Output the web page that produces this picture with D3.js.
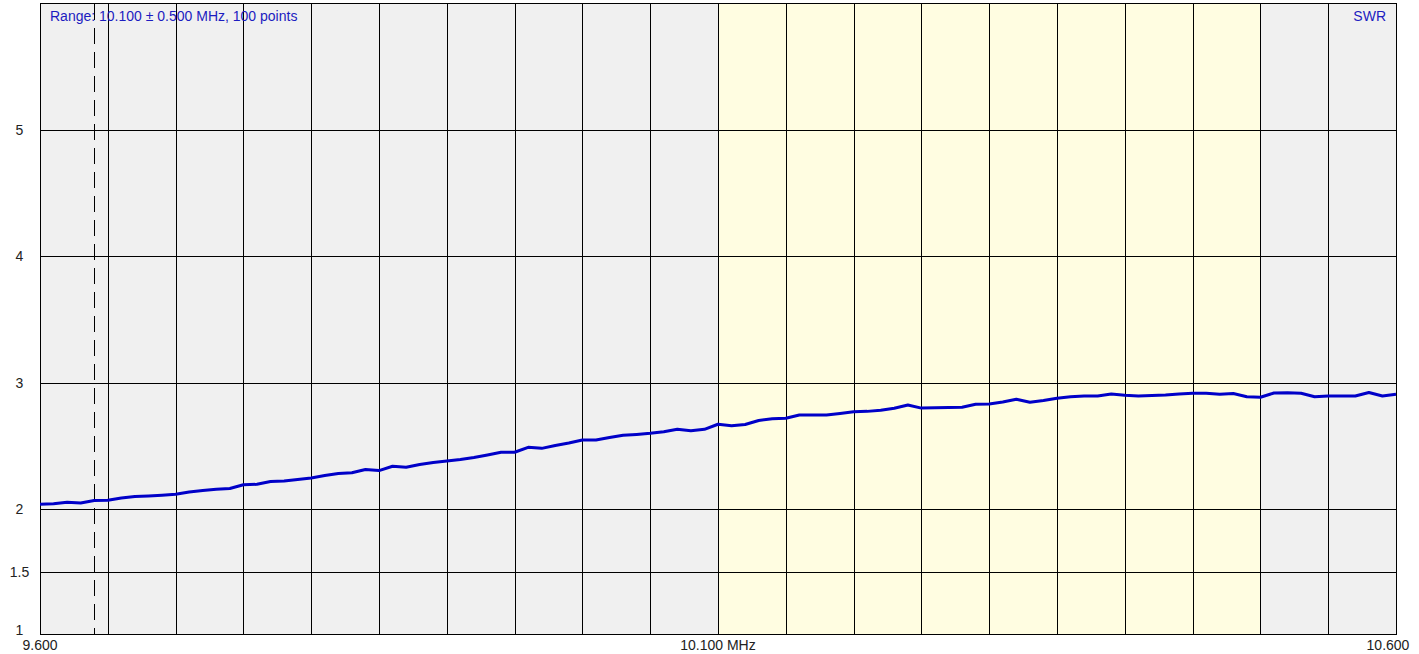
<!DOCTYPE html>
<html lang="en">
<head>
<meta charset="utf-8">
<title>SWR sweep</title>
<script src="https://d3js.org/d3.v7.min.js"></script>
<style>
  body { margin: 0; background: #fff; }
  text { font-family: "Liberation Sans", Arial, sans-serif; }
</style>
</head>
<body>
<script>
// sweep settings
var startMHz = 9.600, stopMHz = 10.600, centerMHz = 10.100;
var bandLo = 10.100, bandHi = 10.500;    // highlighted band
var markerMHz = 9.640;
var titleText = "Range: 10.100 \u00b1 0.500 MHz, 100 points";
var seriesName = "SWR";

// y ticks
var swrTicks = [1, 1.5, 2, 3, 4, 5];
var swrGrid = [1.5, 2, 3, 4, 5];
// x labels
var freqLabels = [
  {f: 9.600, t: "9.600"},
  {f: 10.100, t: "10.100 MHz"},
  {f: 10.600, t: "10.600"}
];

// measured SWR, 101 samples 9.60 .. 10.60 MHz (step 0.01)
var swr = [
  2.036, 2.040, 2.052, 2.046, 2.066, 2.067, 2.086, 2.097, 2.101, 2.107,
  2.115, 2.133, 2.145, 2.155, 2.161, 2.191, 2.194, 2.216, 2.220, 2.232,
  2.244, 2.264, 2.280, 2.286, 2.311, 2.303, 2.337, 2.329, 2.351, 2.367,
  2.379, 2.391, 2.406, 2.426, 2.448, 2.448, 2.487, 2.479, 2.502, 2.521,
  2.545, 2.545, 2.565, 2.582, 2.589, 2.598, 2.611, 2.630, 2.619, 2.630,
  2.670, 2.658, 2.668, 2.700, 2.713, 2.717, 2.743, 2.743, 2.743, 2.755,
  2.769, 2.772, 2.781, 2.797, 2.823, 2.798, 2.800, 2.803, 2.805, 2.828,
  2.830, 2.846, 2.868, 2.844, 2.858, 2.876, 2.888, 2.894, 2.894, 2.909,
  2.899, 2.894, 2.898, 2.902, 2.910, 2.915, 2.915, 2.907, 2.914, 2.888,
  2.884, 2.918, 2.919, 2.915, 2.888, 2.894, 2.894, 2.894, 2.922, 2.894,
  2.907
];

var W = 1419, H = 654;
var plot = {left: 40, right: 1396, top: 4, bottom: 635};

var svg = d3.select("body").append("svg")
    .attr("width", W)
    .attr("height", H);

var x = d3.scaleLinear().domain([startMHz, stopMHz]).range([plot.left, plot.right]);
var y = d3.scaleLinear().domain([1, 6]).range([plot.bottom, plot.top]);

var data = swr.map(function(v, i) {
  return {f: startMHz + i * (stopMHz - startMHz) / (swr.length - 1), v: v};
});

// background
svg.append("rect")
  .attr("x", x(startMHz)).attr("y", y(6))
  .attr("width", x(stopMHz) - x(startMHz))
  .attr("height", y(1) - y(6))
  .attr("fill", "#f0f0f0");

svg.append("rect")
  .attr("x", x(bandLo)).attr("y", y(6))
  .attr("width", x(bandHi) - x(bandLo))
  .attr("height", y(1) - y(6))
  .attr("fill", "#fffde1");

// vertical grid every 50 kHz
var vgrid = d3.range(0, 21).map(function(i) { return startMHz + i * 0.05; });
svg.append("g").selectAll("line")
  .data(vgrid)
  .enter().append("line")
  .attr("x1", function(d) { return Math.round(x(d)) + 0.5; })
  .attr("x2", function(d) { return Math.round(x(d)) + 0.5; })
  .attr("y1", y(6)).attr("y2", y(1))
  .attr("stroke", "#000").attr("stroke-width", 1);

svg.append("g").selectAll("line")
  .data(swrGrid)
  .enter().append("line")
  .attr("x1", x(startMHz)).attr("x2", x(stopMHz))
  .attr("y1", function(d) { return Math.round(y(d)) + 0.5; })
  .attr("y2", function(d) { return Math.round(y(d)) + 0.5; })
  .attr("stroke", "#000").attr("stroke-width", 1);

// border
svg.append("rect")
  .attr("x", x(startMHz) + 0.5).attr("y", y(6) - 0.5)
  .attr("width", x(stopMHz) - x(startMHz))
  .attr("height", y(1) - y(6))
  .attr("fill", "none").attr("stroke", "#000");

// marker
svg.append("line")
  .attr("x1", Math.round(x(markerMHz)) + 0.5)
  .attr("x2", Math.round(x(markerMHz)) + 0.5)
  .attr("y1", y(6)).attr("y2", y(1))
  .attr("stroke", "#000")
  .attr("stroke-dasharray", "16,8");

// SWR trace
var line = d3.line()
  .x(function(d) { return x(d.f); })
  .y(function(d) { return y(d.v); });

svg.append("path")
  .datum(data)
  .attr("d", line)
  .attr("fill", "none")
  .attr("stroke", "#0000c8")
  .attr("stroke-width", 3)
  .attr("stroke-linejoin", "round");

// y labels
svg.append("g").selectAll("text")
  .data(swrTicks)
  .enter().append("text")
  .attr("x", 19.5)
  .attr("y", function(d) { return Math.min(y(d), 630) + 5; })
  .attr("text-anchor", "middle")
  .attr("font-size", 14)
  .attr("fill", "#222")
  .text(function(d) { return d; });

// x labels
svg.append("g").selectAll("text")
  .data(freqLabels)
  .enter().append("text")
  .attr("x", function(d) { return Math.min(x(d.f), 1388); })
  .attr("y", 650)
  .attr("text-anchor", "middle")
  .attr("font-size", 14)
  .attr("fill", "#222")
  .text(function(d) { return d.t; });

svg.append("text")
  .attr("x", 50).attr("y", 21)
  .attr("font-size", 14)
  .attr("fill", "#1c1cc0")
  .text(titleText);

svg.append("text")
  .attr("x", 1386).attr("y", 21)
  .attr("text-anchor", "end")
  .attr("font-size", 14)
  .attr("fill", "#1c1cc0")
  .text(seriesName);
</script>
</body>
</html>
